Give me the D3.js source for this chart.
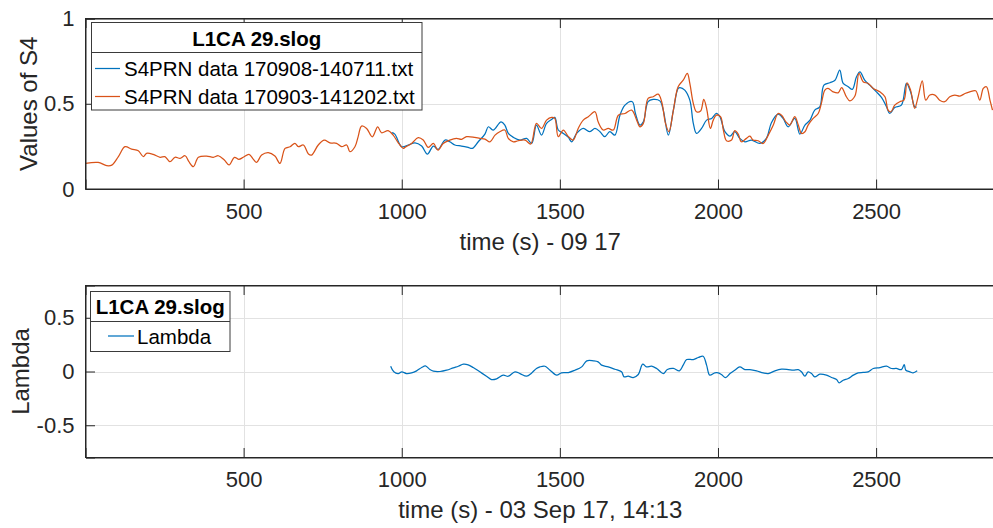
<!DOCTYPE html>
<html>
<head>
<meta charset="utf-8">
<script src="https://d3js.org/d3.v7.min.js"></script>
<style>
  html, body { margin: 0; padding: 0; background: #fff; }
  svg { display: block; font-family: "Liberation Sans", Arial, Helvetica, sans-serif; }
</style>
</head>
<body>
<svg id="chart" width="993" height="528"></svg>
<script>
// ---- data: [time (s), value] ----
const s4Series0908 = [
  [968,0.33],[978,0.322],[1000,0.248],[1021,0.258],[1042,0.271],[1063,0.252],[1081,0.205],[1100,0.252],
  [1115,0.232],[1137,0.287],[1152,0.277],[1168,0.258],[1189,0.252],[1210,0.244],[1223,0.238],[1242,0.277],
  [1263,0.322],[1274,0.365],[1289,0.346],[1314,0.394],[1326,0.375],[1337,0.326],[1353,0.303],[1374,0.287],
  [1395,0.297],[1411,0.267],[1426,0.375],[1442,0.316],[1458,0.385],[1474,0.408],[1484,0.42],[1495,0.346],
  [1511,0.326],[1527,0.303],[1537,0.277],[1553,0.326],[1574,0.355],[1595,0.336],[1611,0.355],[1627,0.336],
  [1642,0.307],[1658,0.336],[1674,0.316],[1690,0.433],[1706,0.492],[1729,0.512],[1739,0.443],[1753,0.375],
  [1764,0.394],[1779,0.512],[1795,0.525],[1816,0.517],[1827,0.463],[1843,0.316],[1859,0.463],[1874,0.59],
  [1880,0.595],[1895,0.58],[1911,0.521],[1922,0.385],[1932,0.326],[1948,0.355],[1964,0.404],[1980,0.414],
  [1995,0.443],[2006,0.424],[2022,0.336],[2038,0.31],[2053,0.336],[2069,0.297],[2085,0.277],[2106,0.287],
  [2132,0.267],[2153,0.297],[2169,0.389],[2190,0.439],[2206,0.414],[2222,0.365],[2243,0.414],[2259,0.322],
  [2275,0.375],[2291,0.404],[2306,0.463],[2322,0.482],[2335,0.609],[2354,0.623],[2370,0.638],[2385,0.697],
  [2396,0.619],[2412,0.6],[2425,0.584],[2438,0.658],[2449,0.687],[2464,0.638],[2480,0.609],[2501,0.57],
  [2517,0.537],[2533,0.482],[2543,0.443],[2559,0.478],[2580,0.492],[2596,0.619],[2609,0.57],[2622,0.482],
  [2628,0.48]
];

const s4Series0903 = [
  [0,0.15],[40,0.156],[67,0.137],[83,0.14],[104,0.19],[125,0.248],[146,0.234],[167,0.224],[183,0.19],
  [193,0.209],[214,0.203],[236,0.186],[251,0.19],[267,0.16],[283,0.186],[299,0.18],[315,0.195],[327,0.16],
  [341,0.131],[357,0.186],[383,0.193],[404,0.186],[420,0.195],[439,0.17],[454,0.141],[471,0.186],[485,0.174],
  [499,0.186],[517,0.203],[531,0.174],[541,0.156],[557,0.199],[578,0.213],[599,0.193],[615,0.15],[631,0.238],
  [647,0.248],[662,0.268],[673,0.248],[689,0.258],[705,0.205],[715,0.199],[736,0.258],[755,0.287],[773,0.271],
  [794,0.268],[810,0.248],[826,0.258],[836,0.219],[852,0.248],[862,0.306],[873,0.369],[889,0.355],[907,0.306],
  [924,0.365],[936,0.33],[957,0.342],[973,0.316],[989,0.271],[1005,0.238],[1010,0.244],[1031,0.267],[1052,0.301],
  [1068,0.287],[1084,0.244],[1100,0.267],[1115,0.228],[1131,0.267],[1152,0.287],[1173,0.297],[1189,0.291],
  [1205,0.307],[1231,0.303],[1247,0.297],[1263,0.293],[1279,0.277],[1295,0.316],[1310,0.336],[1326,0.346],
  [1337,0.297],[1353,0.277],[1368,0.283],[1390,0.287],[1408,0.264],[1426,0.385],[1442,0.355],[1458,0.404],
  [1474,0.42],[1484,0.414],[1495,0.307],[1511,0.346],[1527,0.307],[1542,0.287],[1558,0.355],[1574,0.404],
  [1590,0.424],[1611,0.453],[1621,0.394],[1637,0.346],[1653,0.355],[1669,0.346],[1685,0.433],[1706,0.443],
  [1727,0.463],[1743,0.404],[1753,0.365],[1764,0.385],[1779,0.531],[1795,0.541],[1811,0.556],[1822,0.512],
  [1834,0.385],[1845,0.336],[1859,0.463],[1874,0.6],[1890,0.638],[1903,0.678],[1911,0.619],[1922,0.502],
  [1932,0.453],[1945,0.457],[1955,0.525],[1964,0.473],[1976,0.355],[1985,0.404],[1995,0.433],[2008,0.424],
  [2017,0.346],[2027,0.283],[2043,0.287],[2053,0.342],[2064,0.322],[2074,0.277],[2090,0.297],[2101,0.31],
  [2111,0.287],[2127,0.283],[2143,0.267],[2159,0.316],[2175,0.375],[2190,0.443],[2201,0.433],[2215,0.394],
  [2227,0.375],[2243,0.424],[2254,0.375],[2264,0.326],[2275,0.336],[2285,0.375],[2301,0.414],[2317,0.443],
  [2327,0.502],[2338,0.58],[2348,0.59],[2364,0.57],[2380,0.564],[2391,0.595],[2406,0.541],[2417,0.517],
  [2433,0.545],[2446,0.678],[2459,0.629],[2475,0.619],[2491,0.59],[2512,0.57],[2528,0.541],[2538,0.463],
  [2547,0.453],[2559,0.492],[2575,0.512],[2588,0.521],[2598,0.623],[2609,0.58],[2622,0.473],[2633,0.541],
  [2646,0.634],[2657,0.521],[2670,0.551],[2686,0.551],[2701,0.521],[2717,0.512],[2733,0.541],[2749,0.551],
  [2765,0.545],[2781,0.56],[2796,0.57],[2815,0.576],[2828,0.521],[2839,0.59],[2849,0.6],[2860,0.521],
  [2868,0.463]
];

const lambdaSeries = [
  [965,0.049],[975,-0.003],[989,-0.019],[1000,-0.003],[1015,-0.019],[1031,-0.013],[1047,0.006],[1063,0.037],
  [1075,0.052],[1089,0.018],[1100,0.003],[1121,0],[1142,0.012],[1163,0.034],[1179,0.049],[1195,0.068],
  [1210,0.062],[1226,0.037],[1247,-0.003],[1268,-0.044],[1284,-0.075],[1300,-0.068],[1321,-0.034],[1337,-0.044],
  [1358,-0.003],[1374,-0.019],[1395,-0.044],[1411,-0.013],[1426,0.028],[1437,0.043],[1453,0.049],[1469,0.012],
  [1490,-0.034],[1505,-0.013],[1527,-0.01],[1548,0.012],[1569,0.043],[1585,0.099],[1606,0.099],[1621,0.09],
  [1632,0.059],[1653,0.043],[1674,0.021],[1695,-0.003],[1703,-0.05],[1716,-0.044],[1732,-0.056],[1748,-0.028],
  [1762,0.068],[1774,0.043],[1790,0.049],[1806,0.028],[1827,-0.019],[1840,0.018],[1859,0.028],[1878,0.006],
  [1890,0.059],[1901,0.111],[1922,0.111],[1938,0.13],[1953,0.142],[1964,0.059],[1974,-0.034],[1990,-0.013],
  [2001,-0.013],[2011,-0.028],[2024,-0.056],[2038,-0.019],[2053,0.012],[2069,0.043],[2085,0.018],[2101,0.018],
  [2122,0.006],[2143,-0.013],[2159,-0.019],[2180,0.006],[2201,0.021],[2222,0.018],[2238,0.012],[2254,0.018],
  [2264,-0.003],[2275,-0.044],[2285,-0.003],[2296,-0.019],[2306,-0.05],[2322,-0.025],[2343,-0.034],[2359,-0.056],
  [2375,-0.075],[2383,-0.106],[2396,-0.081],[2412,-0.065],[2428,-0.034],[2443,-0.013],[2459,-0.009],[2475,-0.003],
  [2491,0.028],[2512,0.037],[2533,0.049],[2549,0.028],[2564,0.028],[2580,0.018],[2589,0.065],[2594,0.012],
  [2607,-0.003],[2617,-0.013],[2630,0.006]
];

const timeTicks = [500, 1000, 1500, 2000, 2500];
const s4Ticks = [0, 0.5, 1];
const lambdaTicks = [-0.5, 0, 0.5];
const s4Title = "L1CA 29.slog";
const s4Names = ["S4PRN data 170908-140711.txt", "S4PRN data 170903-141202.txt"];
const lambdaNames = ["Lambda"];
const topXLabel = "time (s) - 09 17";
const bottomXLabel = "time (s) - 03 Sep 17, 14:13";

// ---- styling ----
const BLUE = "#0072BD", ORANGE = "#D95319";
const AXIS = "#262626", GRID = "#e2e2e2";
const TICK_FS = 22, LABEL_FS = 24, LEG_FS = 20.5;
const TICK_LEN = 9.5;

const svg = d3.select("#chart");

function fmt(v) { return v === 0 ? "0" : String(v); }

function panel(cfg) {
  const { left, right, top, bottom, xDomain, yDomain, xTicks, yTicks } = cfg;
  const x = d3.scaleLinear().domain(xDomain).range([left, right]);
  const y = d3.scaleLinear().domain(yDomain).range([bottom, top]);
  const g = svg.append("g");

  // grid
  g.append("g").selectAll("line").data(xTicks).join("line")
    .attr("x1", d => Math.round(x(d)) + 0.5).attr("x2", d => Math.round(x(d)) + 0.5)
    .attr("y1", top).attr("y2", bottom)
    .attr("stroke", GRID).attr("stroke-width", 1);
  g.append("g").selectAll("line").data(yTicks).join("line")
    .attr("x1", left).attr("x2", right)
    .attr("y1", d => Math.round(y(d)) + 0.5).attr("y2", d => Math.round(y(d)) + 0.5)
    .attr("stroke", GRID).attr("stroke-width", 1);

  // data lines (clipped to the axes box); later series are drawn on top
  const clipId = "clip" + Math.round(top);
  svg.append("clipPath").attr("id", clipId).append("rect")
    .attr("x", left).attr("y", top).attr("width", right - left).attr("height", bottom - top);
  const line = d3.line().x(d => x(d[0])).y(d => y(d[1])).curve(d3.curveCatmullRom.alpha(0.5));
  const lines = g.append("g").attr("clip-path", `url(#${clipId})`);
  cfg.series.forEach(s => {
    lines.append("path").datum(s.data)
      .attr("d", line)
      .attr("fill", "none").attr("stroke", s.color)
      .attr("stroke-width", 1.25).attr("stroke-linejoin", "round");
  });

  // axes via d3 axis generators: inward ticks on bottom, top and left
  const xb = d3.axisBottom(x).tickValues(xTicks).tickSize(-TICK_LEN).tickFormat(fmt).tickPadding(14);
  const xt = d3.axisTop(x).tickValues(xTicks).tickSize(-TICK_LEN).tickFormat("");
  const yl = d3.axisLeft(y).tickValues(yTicks).tickSize(-TICK_LEN).tickFormat(fmt).tickPadding(11);

  const gxb = g.append("g").attr("transform", `translate(0,${bottom})`).call(xb);
  const gxt = g.append("g").attr("transform", `translate(0,${top})`).call(xt);
  const gyl = g.append("g").attr("transform", `translate(${left},0)`).call(yl);
  [gxb, gxt, gyl].forEach(a => {
    a.select(".domain").attr("stroke", AXIS).attr("stroke-width", 1);
    a.selectAll(".tick line").attr("stroke", AXIS).attr("stroke-width", 1);
    a.selectAll(".tick text").attr("fill", AXIS)
      .style("font-size", TICK_FS + "px")
      .style("font-family", '"Liberation Sans", Arial, sans-serif');
  });
  gxb.selectAll(".tick text").attr("dy", "0.71em");

  // box
  g.append("rect").attr("x", left).attr("y", top)
    .attr("width", right - left).attr("height", bottom - top)
    .attr("fill", "none").attr("stroke", AXIS).attr("stroke-width", 1);

  // labels
  g.append("text").attr("x", (left + right) / 2).attr("y", cfg.xLabelY)
    .attr("text-anchor", "middle").attr("fill", AXIS)
    .style("font-size", LABEL_FS + "px").text(cfg.xLabel);
  g.append("text")
    .attr("transform", `translate(${cfg.yLabelX},${(top + bottom) / 2}) rotate(-90)`)
    .attr("text-anchor", "middle").attr("fill", AXIS)
    .style("font-size", LABEL_FS + "px").text(cfg.yLabel);

  // legend
  const L = cfg.legend;
  const lg = g.append("g");
  lg.append("rect").attr("x", L.x).attr("y", L.y).attr("width", L.w).attr("height", L.h)
    .attr("fill", "#fff").attr("stroke", "#3a3a3a").attr("stroke-width", 1);
  lg.append("line").attr("x1", L.x).attr("x2", L.x + L.w)
    .attr("y1", L.sep).attr("y2", L.sep).attr("stroke", "#3a3a3a").attr("stroke-width", 1);
  lg.append("text").attr("x", L.x + L.w / 2).attr("y", L.titleY)
    .attr("text-anchor", "middle").attr("fill", "#000").attr("font-weight", "bold")
    .style("font-size", LEG_FS + "px").text(L.title);
  L.items.forEach((it, i) => {
    const cy = L.rowY[i];
    lg.append("line").attr("x1", L.lineX0).attr("x2", L.lineX1)
      .attr("y1", cy).attr("y2", cy).attr("stroke", it.color).attr("stroke-width", 1.25);
    lg.append("text").attr("x", L.textX).attr("y", cy + 7.5)
      .attr("fill", "#000").style("font-size", LEG_FS + "px").text(it.name);
  });
}

const X_DOMAIN = [0, 2876];

panel({
  left: 85.5, right: 995, top: 18.5, bottom: 189,
  xDomain: X_DOMAIN, yDomain: [0, 1],
  xTicks: timeTicks, yTicks: s4Ticks,
  series: [
    { data: s4Series0908, color: BLUE },
    { data: s4Series0903, color: ORANGE }
  ],
  xLabel: topXLabel, xLabelY: 249.5,
  yLabel: "Values of S4", yLabelX: 36.5,
  legend: {
    x: 91.5, y: 22.5, w: 330.5, h: 87.5, sep: 52.5, titleY: 46,
    title: s4Title, lineX0: 95, lineX1: 120, textX: 124, rowY: [68.5, 96.5],
    items: [ { name: s4Names[0], color: BLUE }, { name: s4Names[1], color: ORANGE } ]
  }
});

panel({
  left: 85.5, right: 995, top: 285.5, bottom: 457.5,
  xDomain: X_DOMAIN, yDomain: [-0.8, 0.8],
  xTicks: timeTicks, yTicks: lambdaTicks,
  series: [ { data: lambdaSeries, color: BLUE } ],
  xLabel: bottomXLabel, xLabelY: 518,
  yLabel: "Lambda", yLabelX: 28.5,
  legend: {
    x: 90.5, y: 291.5, w: 139.5, h: 60, sep: 321.5, titleY: 314.3,
    title: s4Title, lineX0: 108, lineX1: 134, textX: 137, rowY: [336],
    items: [ { name: lambdaNames[0], color: BLUE } ]
  }
});
</script>
</body>
</html>
